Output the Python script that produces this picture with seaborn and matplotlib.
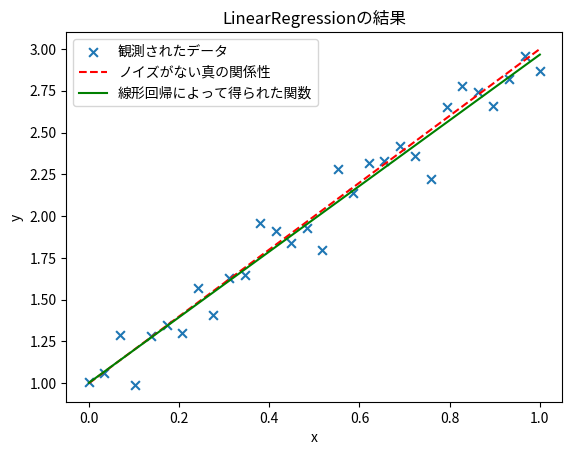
import numpy as np
import matplotlib
matplotlib.use("Agg")
import matplotlib.pyplot as plt
import seaborn as sns

plt.rcParams['font.family'] = ['Noto Sans CJK JP', 'DejaVu Sans']

x = np.array([0.0, 0.034, 0.069, 0.103, 0.138, 0.172, 0.207, 0.241, 0.276, 0.310,
              0.345, 0.379, 0.414, 0.448, 0.483, 0.517, 0.552, 0.586, 0.621, 0.655,
              0.690, 0.724, 0.759, 0.793, 0.828, 0.862, 0.897, 0.931, 0.966, 1.0])
y = np.array([1.01, 1.06, 1.29, 0.99, 1.28, 1.35, 1.30, 1.57, 1.41, 1.63,
              1.65, 1.96, 1.91, 1.84, 1.93, 1.80, 2.28, 2.14, 2.32, 2.33,
              2.42, 2.36, 2.22, 2.65, 2.78, 2.74, 2.66, 2.82, 2.96, 2.87])
true_intercept, true_slope = 1.0, 2.0

slope, intercept = np.polyfit(x, y, 1)

fig, ax = plt.subplots(figsize=(6.4, 4.8), dpi=100)
sns.scatterplot(x=x, y=y, marker='x', s=40, linewidth=1.5, color='#1f77b4',
                label='観測されたデータ', ax=ax)
sns.lineplot(x=x, y=true_intercept + true_slope * x, color='red', linestyle='--',
             label='ノイズがない真の関係性', ax=ax)
sns.lineplot(x=x, y=intercept + slope * x, color='green',
             label='線形回帰によって得られた関数', ax=ax)
ax.set_xlabel('x')
ax.set_ylabel('y')
ax.set_title('LinearRegressionの結果')
ax.legend(loc='upper left')
fig.savefig('out.png', bbox_inches='tight')
